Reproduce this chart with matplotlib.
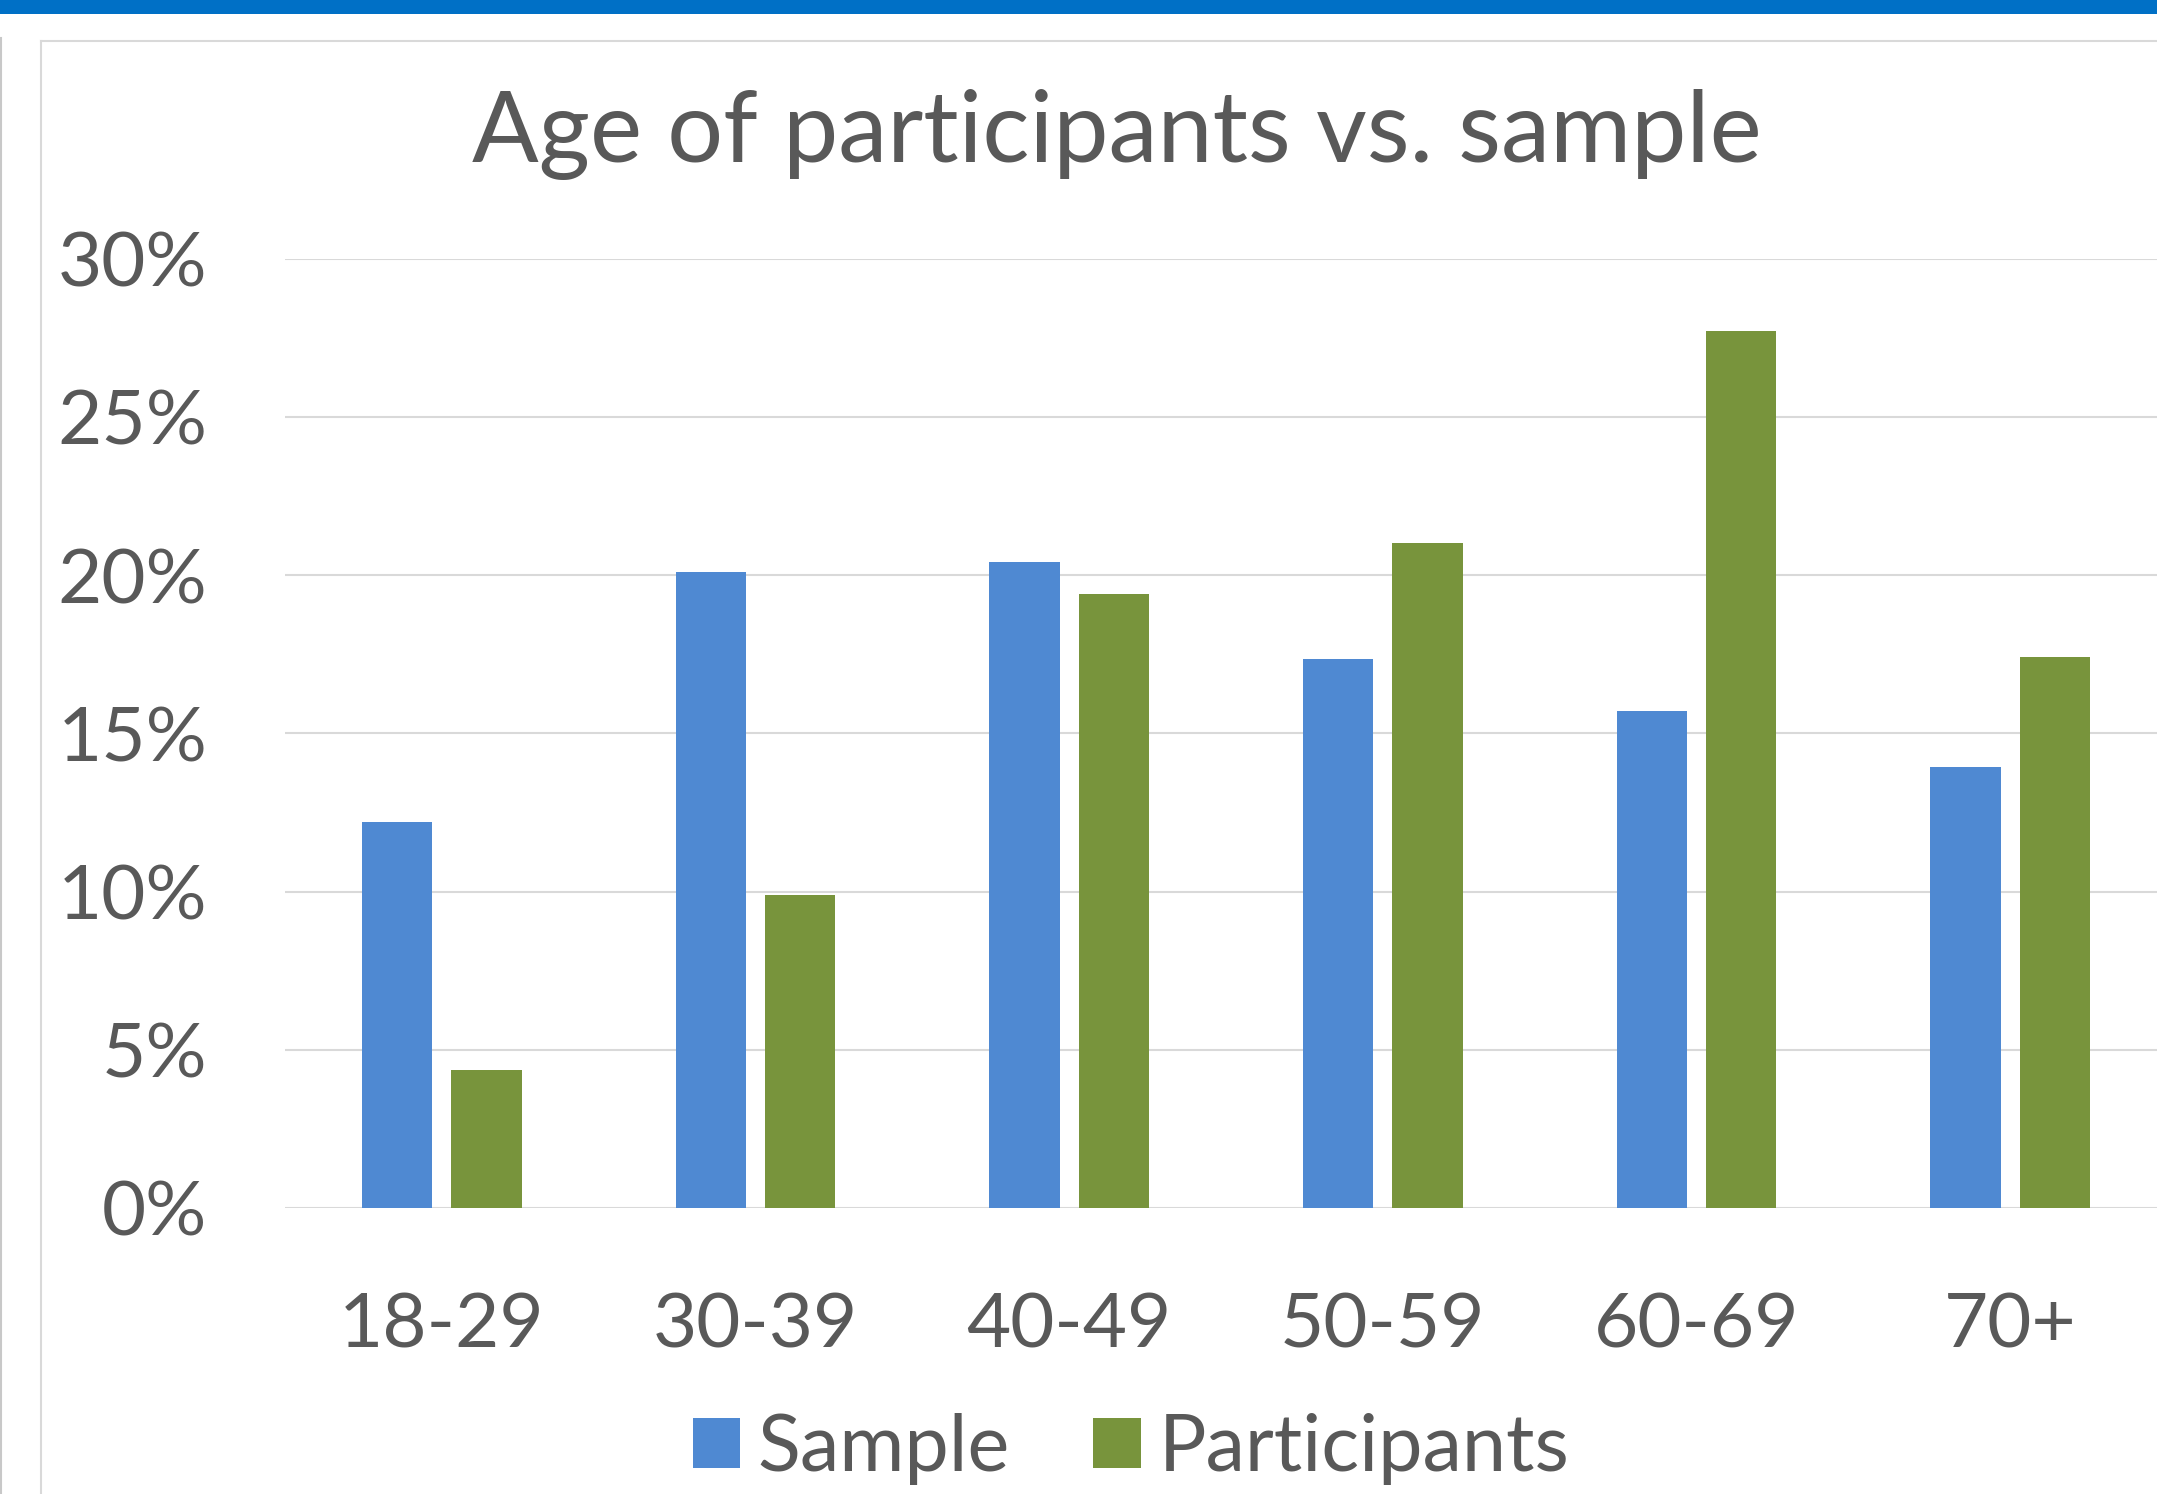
import matplotlib.pyplot as plt
import matplotlib.lines as mlines
import numpy as np

age_groups = ["18-29", "30-39", "40-49", "50-59", "60-69", "70+"]
sample = [12.2, 20.1, 20.4, 17.35, 15.7, 13.95]
participants = [4.35, 9.9, 19.4, 21.0, 27.7, 17.4]
y_ticks = [0, 5, 10, 15, 20, 25, 30]

W, H = 2157, 1494
txt = "#595959"
grid_col = "#D9D9D9"
blue = "#4F89D2"
green = "#78943C"
font = "Lato"

plt.rcParams["font.family"] = [font, "DejaVu Sans"]

fig = plt.figure(figsize=(W / 100, H / 100), dpi=100)

# blue strip on top of the page
fig.add_artist(plt.Rectangle((0, 1 - 14 / H), 1, 14 / H, transform=fig.transFigure,
                             color="#0070C6", lw=0))
# chart frame and page edge line
fig.add_artist(mlines.Line2D([41 / W, 41 / W], [0, 1 - 41 / H], transform=fig.transFigure,
                             color=grid_col, lw=1.5))
fig.add_artist(mlines.Line2D([41 / W, 1], [1 - 41 / H, 1 - 41 / H], transform=fig.transFigure,
                             color=grid_col, lw=1.5))
fig.add_artist(mlines.Line2D([1 / W, 1 / W], [0, 1 - 38 / H], transform=fig.transFigure,
                             color="#C8C8C8", lw=1.5))

ax = fig.add_axes([285 / W, 1 - 1208 / H, (2167 - 285) / W, (1208 - 258.6) / H])

x = np.arange(len(age_groups))
bw = 0.224
ax.bar(x - 0.1425, sample, bw, color=blue, label="Sample", zorder=3)
ax.bar(x + 0.1425, participants, bw, color=green, label="Participants", zorder=3)

ax.set_xlim(-0.5, len(age_groups) - 0.5)
ax.set_ylim(0, 30)
ax.set_yticks(y_ticks)
ax.set_yticklabels([f"{v}%" for v in y_ticks])
ax.set_xticks(x)
ax.set_xticklabels(age_groups)
ax.tick_params(axis="y", length=0, pad=56, labelsize=55, labelcolor=txt)
ax.tick_params(axis="x", length=0, pad=60, labelsize=55, labelcolor=txt)
ax.grid(axis="y", color=grid_col, lw=1.5, zorder=0)
for s in ax.spines.values():
    s.set_visible(False)
ax.axhline(0, color=grid_col, lw=1.8, zorder=2)

fig.text(1117 / W, 1 - 98 / 1086, "Age of participants vs. sample", ha="center", va="center",
         fontsize=71, color=txt)

leg = fig.legend(loc="center", bbox_to_anchor=(1131 / W, 1 - 1449 / H), ncol=2, frameon=False,
                 fontsize=57, handlelength=34.5 / 57, handleheight=34.5 / 57,
                 handletextpad=0.22, columnspacing=1.05)
for t in leg.get_texts():
    t.set_color(txt)

fig.savefig("out.png", dpi=100)
